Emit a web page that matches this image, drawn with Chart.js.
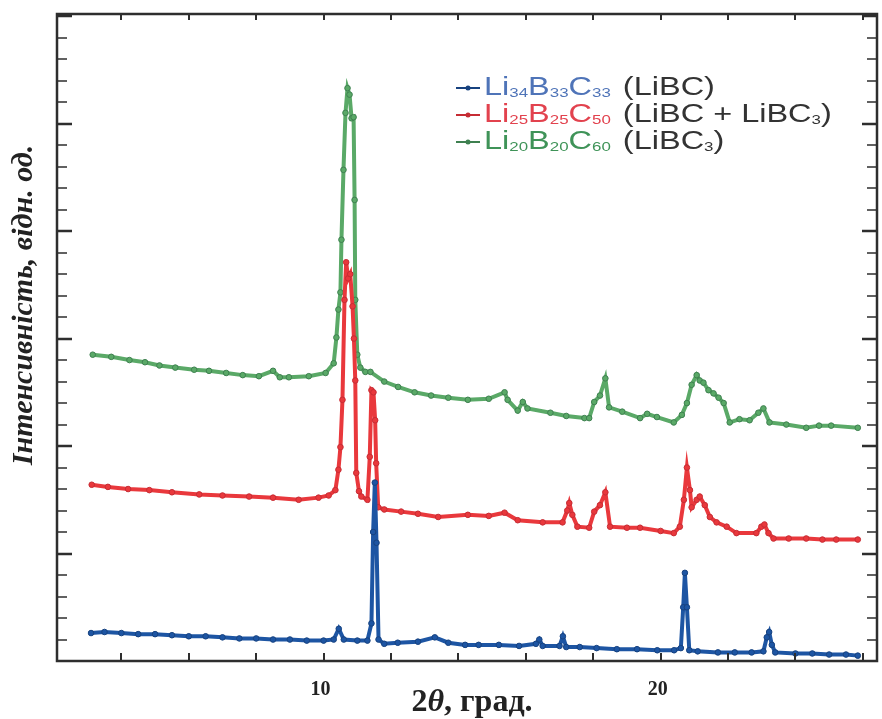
<!DOCTYPE html>
<html>
<head>
<meta charset="utf-8">
<script src="https://cdn.jsdelivr.net/npm/chart.js@4.4.1/dist/chart.umd.min.js"></script>
<style>
  body { margin: 0; background: #fff; }
  #xrd { display: block; }
</style>
</head>
<body>
<canvas id="xrd" width="882" height="719"></canvas>
<script>
// --- data (2theta in degrees, intensity in arb. units) ---
const liBC = [
  [3.1,0.26],[3.5,0.27],[4.0,0.26],[4.5,0.25],[5.0,0.25],[5.5,0.24],[6.0,0.23],[6.5,0.23],
  [7.0,0.22],[7.5,0.21],[8.0,0.21],[8.5,0.2],[9.0,0.2],[9.5,0.19],[10.0,0.19],[10.3,0.2],
  [10.45,0.3],[10.6,0.2],[11.0,0.19],[11.3,0.19],[11.42,0.35],[11.47,1.2],[11.52,1.66],
  [11.57,1.1],[11.63,0.2],[11.8,0.16],[12.2,0.17],[12.8,0.18],[13.3,0.22],[13.7,0.17],
  [14.2,0.15],[14.6,0.15],[15.2,0.15],[15.8,0.14],[16.3,0.16],[16.4,0.2],[16.5,0.14],
  [17.0,0.14],[17.1,0.23],[17.2,0.13],[17.6,0.13],[18.1,0.12],[18.7,0.11],[19.3,0.11],
  [19.9,0.1],[20.4,0.1],[20.6,0.12],[20.67,0.5],[20.72,0.82],[20.78,0.5],[20.85,0.1],
  [21.1,0.09],[21.7,0.08],[22.2,0.08],[22.7,0.08],[23.05,0.09],[23.15,0.22],[23.22,0.27],
  [23.3,0.15],[23.4,0.08],[24.0,0.07],[24.5,0.07],[25.0,0.06],[25.5,0.06],[25.85,0.05]
];
const liBCmix = [
  [3.12,1.64],[3.6,1.62],[4.2,1.6],[4.83,1.59],[5.5,1.57],[6.31,1.55],[7.0,1.54],[7.79,1.53],
  [8.5,1.52],[9.26,1.5],[9.85,1.52],[10.15,1.54],[10.35,1.59],[10.44,1.78],[10.5,1.99],
  [10.56,2.43],[10.62,3.36],[10.67,3.71],[10.73,3.56],[10.79,3.6],[10.86,3.3],[10.9,3.0],
  [10.94,2.61],[10.97,1.75],[11.05,1.58],[11.12,1.53],[11.3,1.5],[11.37,1.9],[11.42,2.52],
  [11.48,2.5],[11.53,2.24],[11.56,1.84],[11.62,1.43],[11.8,1.41],[12.3,1.39],[12.8,1.37],
  [13.4,1.34],[14.28,1.36],[14.9,1.35],[15.37,1.38],[15.76,1.31],[16.5,1.29],[17.09,1.29],
  [17.23,1.4],[17.29,1.47],[17.38,1.36],[17.53,1.25],[17.88,1.24],[18.03,1.39],[18.2,1.45],
  [18.36,1.57],[18.5,1.25],[19.0,1.24],[19.39,1.24],[20.0,1.21],[20.39,1.19],[20.57,1.25],
  [20.69,1.5],[20.78,1.8],[20.87,1.59],[20.92,1.43],[21.07,1.5],[21.16,1.53],[21.31,1.45],
  [21.46,1.34],[21.66,1.29],[21.96,1.25],[22.25,1.19],[22.84,1.19],[22.99,1.25],[23.08,1.27],
  [23.2,1.19],[23.35,1.14],[23.8,1.14],[24.32,1.14],[24.8,1.13],[25.21,1.13],[25.85,1.13]
];
const liBC3 = [
  [3.15,2.85],[3.7,2.83],[4.24,2.8],[4.7,2.78],[5.13,2.75],[5.6,2.73],[6.16,2.71],[6.6,2.7],
  [7.11,2.68],[7.6,2.66],[8.08,2.65],[8.5,2.7],[8.7,2.64],[8.97,2.64],[9.56,2.65],[10.06,2.68],
  [10.3,2.77],[10.38,3.01],[10.44,3.27],[10.5,3.43],[10.53,3.92],[10.59,4.57],[10.65,5.1],
  [10.71,5.33],[10.77,5.27],[10.83,5.05],[10.89,5.06],[10.92,4.29],[10.94,3.36],[11.0,2.85],
  [11.09,2.73],[11.24,2.69],[11.39,2.69],[11.8,2.6],[12.21,2.55],[12.7,2.5],[13.19,2.47],
  [13.7,2.45],[14.28,2.43],[14.9,2.44],[15.37,2.5],[15.46,2.43],[15.76,2.33],[15.91,2.41],
  [16.05,2.35],[16.73,2.31],[17.2,2.28],[17.74,2.26],[17.88,2.26],[18.03,2.41],[18.2,2.47],
  [18.36,2.63],[18.47,2.36],[18.86,2.32],[19.39,2.26],[19.6,2.3],[19.89,2.27],[20.39,2.22],
  [20.63,2.29],[20.78,2.4],[20.92,2.57],[21.07,2.66],[21.16,2.61],[21.27,2.59],[21.42,2.52],
  [21.57,2.49],[21.72,2.45],[21.87,2.4],[22.05,2.22],[22.34,2.25],[22.64,2.24],[22.9,2.31],
  [23.05,2.35],[23.23,2.22],[23.73,2.2],[24.32,2.17],[24.7,2.19],[25.06,2.19],[25.85,2.17]
];

const xMin = 2.09, xMax = 26.42;
const yMin = 0, yMax = 6.02;
const xTicks = [4, 6, 8, 10, 12, 14, 16, 18, 20, 22, 24, 26];
const xTickLabels = [10, 20];
const yMajor = [1, 2, 3, 4, 5, 6];
const yMinorStep = 0.2;

const lineColors = ['#1d55a3', '#e9383c', '#5aa967'];
const markColors = ['#17427f', '#c62c34', '#3e8050'];
const textColors = ['#4f74b8', '#e2424e', '#3f9358'];

// legend text: [text, isSubscript]
const legendFormula = [
  [['Li', 0], ['34', 1], ['B', 0], ['33', 1], ['C', 0], ['33', 1]],
  [['Li', 0], ['25', 1], ['B', 0], ['25', 1], ['C', 0], ['50', 1]],
  [['Li', 0], ['20', 1], ['B', 0], ['20', 1], ['C', 0], ['60', 1]]
];
const legendPhase = [
  [['(LiBC)', 0]],
  [['(LiBC + LiBC', 0], ['3', 1], [')', 0]],
  [['(LiBC', 0], ['3', 1], [')', 0]]
];

const toXY = (arr) => arr.map(p => ({ x: p[0], y: p[1] }));

const makeSet = (arr, i) => ({
  data: toXY(arr),
  borderColor: lineColors[i],
  borderWidth: 4,
  pointRadius: 2.8,
  pointBackgroundColor: lineColors[i],
  pointBorderColor: markColors[i],
  pointBorderWidth: 1,
  tension: 0
});

// draw a string made of normal / subscript pieces (stretched like the source), returns end x
const legendStretch = 1.3;
const drawRich = (ctx, x, y, parts, color) => {
  ctx.save();
  ctx.translate(x, y);
  ctx.scale(legendStretch, 1);
  ctx.fillStyle = color;
  ctx.textBaseline = 'middle';
  ctx.textAlign = 'left';
  let cx = 0;
  parts.forEach(([t, sub]) => {
    ctx.font = sub ? '13px "Liberation Sans", Arial' : '25px "Liberation Sans", Arial';
    ctx.fillText(t, cx, sub ? 5 : 0);
    cx += ctx.measureText(t).width;
  });
  ctx.restore();
  return x + cx * legendStretch;
};

const framePlugin = {
  id: 'frame',
  afterDatasetsDraw(chart) {
    const { ctx, chartArea: a, scales } = chart;
    const xs = scales.x, ys = scales.y;
    ctx.save();
    ctx.strokeStyle = '#2e2e2e';

    // ticks along x (inside, top and bottom)
    ctx.lineWidth = 2;
    xTicks.forEach(v => {
      const px = Math.round(xs.getPixelForValue(v));
      ctx.beginPath();
      ctx.moveTo(px, a.bottom); ctx.lineTo(px, a.bottom - 8);
      ctx.moveTo(px, a.top); ctx.lineTo(px, a.top + 6);
      ctx.stroke();
    });

    // ticks along y, left and right
    for (let k = 1; k * yMinorStep < yMax; k++) {
      const v = k * yMinorStep;
      const isMajor = yMajor.some(m => Math.abs(m - v) < 1e-6);
      const py = Math.round(ys.getPixelForValue(v));
      const len = isMajor ? 15 : 10;
      ctx.lineWidth = isMajor ? 2.5 : 1.6;
      ctx.beginPath();
      ctx.moveTo(a.left, py); ctx.lineTo(a.left + len, py);
      ctx.moveTo(a.right, py); ctx.lineTo(a.right - len, py);
      ctx.stroke();
    }

    // frame
    ctx.lineWidth = 2.5;
    ctx.strokeRect(a.left, a.top, a.right - a.left, a.bottom - a.top);

    // x tick labels
    ctx.fillStyle = '#222';
    ctx.font = 'bold 20px "Liberation Serif", "Times New Roman", serif';
    ctx.textAlign = 'center';
    ctx.textBaseline = 'middle';
    xTickLabels.forEach(v => {
      ctx.fillText(String(v), xs.getPixelForValue(v) - 3, a.bottom + 29);
    });

    // x axis title: "2θ, град."
    const tx = 472, ty = 703;
    const partsX = [['2', 'bold'], ['θ', 'bold italic'], [', град.', 'bold']];
    const fx = ' 32px "Liberation Serif", serif';
    let w = 0;
    partsX.forEach(([t, s]) => { ctx.font = s + fx; w += ctx.measureText(t).width; });
    let cx = tx - w / 2;
    ctx.textAlign = 'left';
    partsX.forEach(([t, s]) => {
      ctx.font = s + fx;
      ctx.fillText(t, cx, ty);
      cx += ctx.measureText(t).width;
    });

    // y axis title
    ctx.translate(24, 305);
    ctx.rotate(-Math.PI / 2);
    ctx.textAlign = 'center';
    ctx.font = 'bold italic 30px "Liberation Serif", serif';
    ctx.fillText('Інтенсивність, відн. од.', 0, 0);
    ctx.restore();

    // legend
    ctx.save();
    const rows = [88, 115, 142];
    rows.forEach((ry, i) => {
      ctx.strokeStyle = markColors[i];
      ctx.lineWidth = 2;
      ctx.beginPath();
      ctx.moveTo(456, ry); ctx.lineTo(480, ry);
      ctx.stroke();
      ctx.fillStyle = markColors[i];
      ctx.beginPath();
      ctx.arc(468, ry, 2.5, 0, Math.PI * 2);
      ctx.fill();
      const end = drawRich(ctx, 484, ry, legendFormula[i], textColors[i]);
      drawRich(ctx, end + 12, ry, legendPhase[i], '#333');
    });
    ctx.restore();
  }
};

new Chart(document.getElementById('xrd'), {
  type: 'line',
  data: {
    datasets: [makeSet(liBC, 0), makeSet(liBCmix, 1), makeSet(liBC3, 2)]
  },
  options: {
    responsive: false,
    animation: false,
    devicePixelRatio: 1,
    layout: { padding: { left: 57, right: 1, top: 14, bottom: 58 } },
    scales: {
      x: { type: 'linear', min: xMin, max: xMax, display: false },
      y: { type: 'linear', min: yMin, max: yMax, display: false }
    },
    plugins: {
      legend: { display: false },
      tooltip: { enabled: false }
    }
  },
  plugins: [framePlugin]
});
</script>
</body>
</html>
